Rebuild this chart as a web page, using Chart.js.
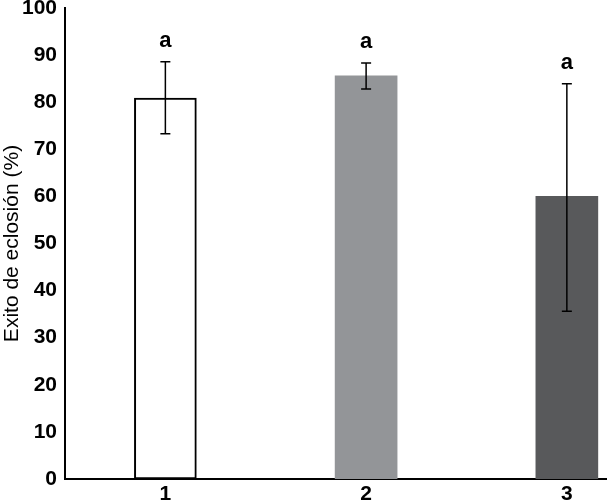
<!DOCTYPE html>
<html>
<head>
<meta charset="utf-8">
<script src="https://cdn.jsdelivr.net/npm/chart.js@4"></script>
<style>
  html, body { margin: 0; padding: 0; background: #fff; overflow: hidden; }
  #wrap { width: 607px; height: 502px; position: relative; }
</style>
</head>
<body>
<div id="wrap"><canvas id="chart"></canvas></div>
<script>
// data
const groups   = [1, 2, 3];
const means    = [80.9, 85.6, 60.0];
const errLow   = [73.3, 82.8, 35.6];
const errHigh  = [88.6, 88.3, 83.9];
const letters  = ['a', 'a', 'a'];
const yTicks   = [0, 10, 20, 30, 40, 50, 60, 70, 80, 90, 100];

const FILLS   = ['#ffffff', '#939598', '#58595b'];
const BORDERS = ['#000000', '#939598', '#58595b'];
const FONT = "'Liberation Sans', Arial, sans-serif";

// error bars + letters
const errorBars = {
    id: 'errorBars',
    afterDatasetsDraw(chart) {
        const { ctx, scales: { x, y } } = chart;
        ctx.save();
        ctx.strokeStyle = '#000';
        ctx.lineWidth = 1.5;
        groups.forEach((g, i) => {
            const px = x.getPixelForValue(g);
            const top = y.getPixelForValue(errHigh[i]);
            const bot = y.getPixelForValue(errLow[i]);
            ctx.beginPath();
            ctx.moveTo(px, top); ctx.lineTo(px, bot);
            ctx.moveTo(px - 5, top); ctx.lineTo(px + 5, top);
            ctx.moveTo(px - 5, bot); ctx.lineTo(px + 5, bot);
            ctx.stroke();
            ctx.fillStyle = '#000';
            ctx.font = 'bold 22px ' + FONT;
            ctx.textAlign = 'center';
            ctx.textBaseline = 'bottom';
            ctx.fillText(letters[i], px, top - 10);
        });
        ctx.restore();
    }
};

new Chart(document.getElementById('chart'), {
    type: 'bar',
    data: {
        datasets: [{
            data: groups.map((g, i) => ({ x: g, y: means[i] })),
            backgroundColor: FILLS,
            borderColor: BORDERS,
            borderWidth: [2, 0, 0],
            borderSkipped: false,
            barThickness: 62,
        }]
    },
    options: {
        responsive: true, maintainAspectRatio: false,
        animation: false,
        layout: { padding: { top: 8, right: 0, left: 0, bottom: 0 } },
        plugins: { legend: { display: false }, tooltip: { enabled: false } },
        scales: {
            x: {
                type: 'linear', min: 0.5, max: 3.2, offset: false,
                afterBuildTicks: s => { s.ticks = groups.map(v => ({ value: v })); },
                afterFit: s => { s.height = 23; s.paddingLeft = 0; s.paddingRight = 0; },
                grid: { display: false, drawTicks: false },
                border: { display: true, color: '#000', width: 2 },
                ticks: { color: '#000', padding: 3, font: { family: FONT, size: 21, weight: 'bold' } },
            },
            y: {
                min: 0, max: 100,
                afterBuildTicks: s => { s.ticks = yTicks.map(v => ({ value: v })); },
                afterFit: s => { s.width = 65; s.paddingTop = 0; s.paddingBottom = 0; },
                grid: { display: false, drawTicks: false },
                border: { display: true, color: '#000', width: 2 },
                ticks: { color: '#000', padding: 8, font: { family: FONT, size: 21, weight: 'bold' } },
                title: {
                    display: true, text: 'Exito de eclosión (%)', color: '#000',
                    padding: { top: 0, bottom: 0 },
                    font: { family: FONT, size: 21 },
                },
            },
        },
    },
    plugins: [errorBars],
});
</script>
</body>
</html>
